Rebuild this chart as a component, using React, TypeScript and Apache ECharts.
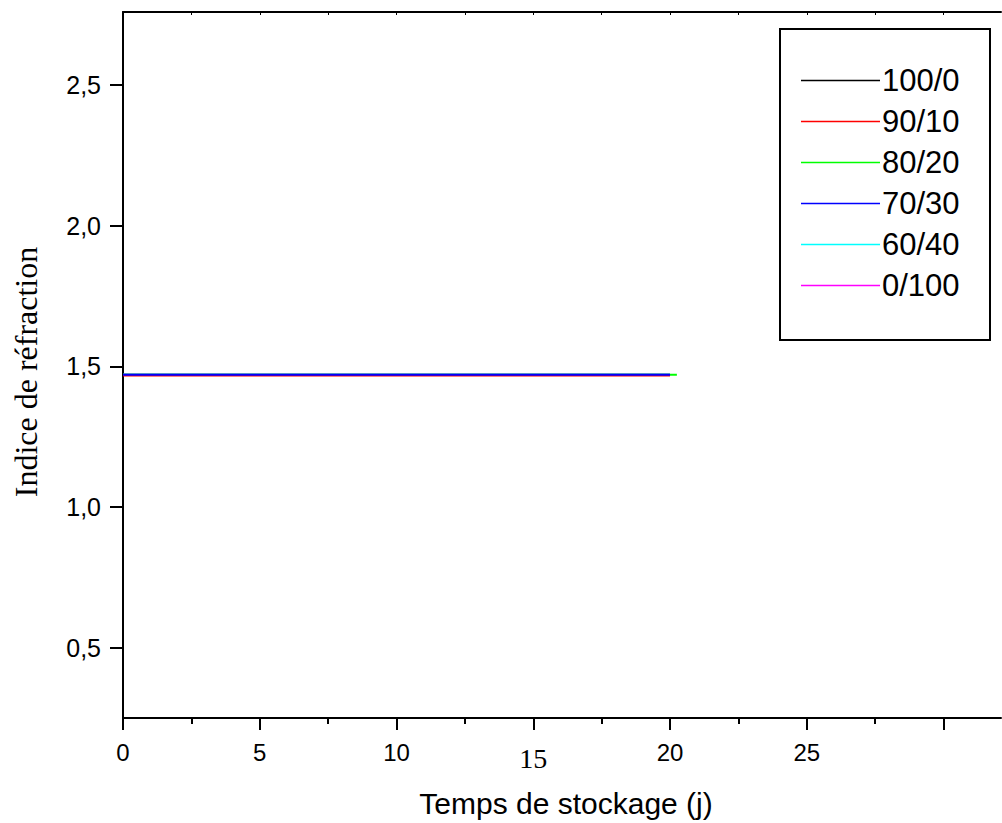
import React, { useEffect, useRef } from "react";
import * as echarts from "echarts";

const legendNames = ["100/0", "90/10", "80/20", "70/30", "60/40", "0/100"];
const colors = ["#000000", "#ff0000", "#00ff00", "#0000ff", "#00ffff", "#ff00ff"];
const days = [0, 5, 10, 15, 20];
const daysGreen = [0, 5, 10, 15, 20.25];
const v100_0 = [1.47, 1.47, 1.47, 1.47, 1.47];
const v90_10 = [1.468, 1.468, 1.468, 1.468, 1.468];
const v80_20 = [1.47, 1.47, 1.47, 1.47, 1.47];
const v70_30 = [1.47, 1.47, 1.47, 1.47, 1.47];
const v60_40 = [1.47, 1.47, 1.47, 1.47, 1.47];
const v0_100 = [1.47, 1.47, 1.47, 1.47, 1.47];
const xMajorTicks = [0, 5, 10, 15, 20, 25, 30];
const xLabelTicks = [0, 5, 10, 15, 20, 25];
const xMinorTicks = [2.5, 7.5, 12.5, 17.5, 22.5, 27.5];
const xTopTicks = [2.5, 5, 7.5, 10, 12.5, 15, 17.5, 20, 22.5, 25, 27.5, 30];
const yTicks = [0.5, 1.0, 1.5, 2.0, 2.5];

const SANS = "'Liberation Sans', Arial, sans-serif";
const SERIF = "'Liberation Serif', 'Times New Roman', serif";

export default function App() {
  const ref = useRef<HTMLDivElement>(null);
  useEffect(() => {
    if (!ref.current) return;
    const chart = echarts.init(ref.current, null, { renderer: "svg" });
    const pair = (xs: number[], ys: number[]) => xs.map((x, i) => [x, ys[i]]);
    const seriesData: { [k: string]: number[][] } = {
      "100/0": pair(days, v100_0),
      "90/10": pair(days, v90_10),
      "80/20": pair(daysGreen, v80_20),
      "70/30": pair(days, v70_30),
      "60/40": pair(days, v60_40),
      "0/100": pair(days, v0_100),
    };
    const drawOrder = ["100/0", "0/100", "80/20", "60/40", "90/10", "70/30"];
    const grid = { left: 123, top: 12, width: 878, height: 706 };
    const xBase = { min: 0, max: 32.1, type: "value" as const, splitLine: { show: false } };
    chart.setOption({
      animation: false,
      backgroundColor: "#ffffff",
      grid,
      xAxis: [
        {
          ...xBase,
          position: "bottom",
          axisLine: { lineStyle: { color: "#000", width: 2 } },
          axisTick: { customValues: xMajorTicks, length: 12, lineStyle: { color: "#000", width: 2 } },
          axisLabel: {
            customValues: xLabelTicks,
            margin: 22,
            color: "#000",
            fontFamily: SANS,
            fontSize: 24,
            formatter: (v: number) => (v === 15 ? "{s|15}" : String(v)),
            rich: { s: { fontFamily: SERIF, fontSize: 28, color: "#000", padding: [4, 0, 0, 0] } },
          },
        },
        {
          ...xBase,
          position: "bottom",
          axisLine: { show: false },
          axisTick: { customValues: xMinorTicks, length: 6, lineStyle: { color: "#000", width: 2 } },
          axisLabel: { show: false },
        },
        {
          ...xBase,
          position: "top",
          axisLine: { lineStyle: { color: "#000", width: 2 } },
          axisTick: { customValues: xTopTicks, inside: true, length: 3, lineStyle: { color: "#000", width: 1 } },
          axisLabel: { show: false },
        },
      ],
      yAxis: {
        type: "value",
        min: 0.25,
        max: 2.76,
        splitLine: { show: false },
        axisLine: { show: true, lineStyle: { color: "#000", width: 2 } },
        axisTick: { show: true, customValues: yTicks, length: 13, lineStyle: { color: "#000", width: 2 } },
        axisLabel: {
          customValues: yTicks,
          margin: 22,
          color: "#000",
          fontFamily: SANS,
          fontSize: 25,
          formatter: (v: number) => v.toFixed(1).replace(".", ","),
        },
      },
      legend: {
        data: legendNames,
        orient: "vertical",
        left: 801,
        top: 64,
        padding: 0,
        icon: "rect",
        itemWidth: 79,
        itemHeight: 1.5,
        itemGap: 8,
        textStyle: { fontFamily: SANS, fontSize: 31, lineHeight: 33, color: "#000", padding: [0, 0, 0, -3] },
      },
      graphic: [
        {
          type: "rect",
          shape: { x: 780, y: 29, width: 210, height: 311 },
          style: { fill: "none", stroke: "#000", lineWidth: 2 },
          z: 0,
        },
        {
          type: "text",
          x: 566,
          y: 803,
          style: {
            text: "Temps de stockage (j)",
            font: `30px ${SANS}`,
            fill: "#000",
            textAlign: "center",
            textVerticalAlign: "middle",
          },
        },
        {
          type: "text",
          x: 26,
          y: 372,
          rotation: Math.PI / 2,
          style: {
            text: "Indice de réfraction",
            font: `32px ${SERIF}`,
            fill: "#000",
            textAlign: "center",
            textVerticalAlign: "middle",
          },
        },
      ],
      series: drawOrder.map((name) => ({
        name,
        type: "line",
        xAxisIndex: 0,
        data: seriesData[name],
        showSymbol: false,
        symbol: "none",
        color: colors[legendNames.indexOf(name)],
        lineStyle: { width: 2, color: colors[legendNames.indexOf(name)] },
      })),
    });
    return () => chart.dispose();
  }, []);
  return <div ref={ref} style={{ width: 1002, height: 823, position: "absolute", left: 0, top: 0 }} />;
}
